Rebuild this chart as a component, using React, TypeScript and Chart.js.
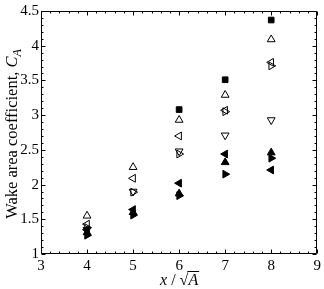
import React, { useEffect, useRef } from "react";
import { Chart, registerables } from "chart.js";

Chart.register(...registerables);

const xPositions = [4, 5, 6, 7, 8];
const filledSquare = [null, null, 3.08, 3.51, 4.37];
const openUp = [1.55, 2.25, 2.93, 3.29, 4.09];
const openLeft = [1.43, 2.09, 2.7, 3.07, 3.76];
const openRight = [1.38, 1.89, 2.44, 3.05, 3.71];
const openDown = [1.35, 1.9, 2.48, 2.71, 2.93];
const filledUp = [1.31, 1.6, 1.87, 2.32, 2.46];
const filledLeft = [1.35, 1.64, 2.02, 2.44, 2.21];
const filledRight = [1.27, 1.56, 1.84, 2.15, 2.38];

const xTicks = [3, 4, 5, 6, 7, 8, 9];
const yTicks = [1, 1.5, 2, 2.5, 3, 3.5, 4, 4.5];

const FONT = "'Liberation Serif', 'Times New Roman', serif";

type Series = { values: (number | null)[]; style: string; rotation: number; filled: boolean };

const seriesList: Series[] = [
  { values: filledSquare, style: "rect", rotation: 0, filled: true },
  { values: openUp, style: "triangle", rotation: 0, filled: false },
  { values: openLeft, style: "triangle", rotation: -90, filled: false },
  { values: openRight, style: "triangle", rotation: 90, filled: false },
  { values: openDown, style: "triangle", rotation: 180, filled: false },
  { values: filledUp, style: "triangle", rotation: 0, filled: true },
  { values: filledLeft, style: "triangle", rotation: -90, filled: true },
  { values: filledRight, style: "triangle", rotation: 90, filled: true },
];

const framePlugin = {
  id: "frame",
  afterDraw(chart: any) {
    const { ctx, chartArea } = chart;
    const { left, right, top, bottom } = chartArea;
    const xs = chart.scales.x;
    const ys = chart.scales.y;
    ctx.save();
    ctx.strokeStyle = "#000";
    ctx.lineWidth = 1;
    const L = Math.round(left) + 0.5;
    const R = Math.round(right) - 0.5;
    const T = Math.round(top) + 0.5;
    const B = Math.round(bottom) - 0.5;
    ctx.beginPath();
    ctx.rect(L, T, R - L, B - T);
    ctx.stroke();
    const line = (x1: number, y1: number, x2: number, y2: number) => {
      ctx.beginPath();
      ctx.moveTo(x1, y1);
      ctx.lineTo(x2, y2);
      ctx.stroke();
    };
    for (let i = 0; i <= 30; i++) {
      const v = 3 + i * 0.2;
      const px = Math.round(xs.getPixelForValue(v)) + 0.5;
      const len = i % 5 === 0 ? 4 : 2;
      line(px, B, px, B - len);
      line(px, T, px, T + len);
    }
    for (let i = 0; i <= 35; i++) {
      const v = 1 + i * 0.1;
      const py = Math.round(ys.getPixelForValue(v)) + 0.5;
      const len = i % 5 === 0 ? 4 : 2;
      line(L, py, L + len, py);
      line(R, py, R - len, py);
    }
    // x title
    ctx.fillStyle = "#000";
    ctx.textBaseline = "alphabetic";
    const cx = (left + right) / 2;
    const ty = 285;
    const fs = 16;
    ctx.font = `italic ${fs}px ${FONT}`;
    const wx = ctx.measureText("x").width;
    ctx.font = `${fs}px ${FONT}`;
    const wSlash = ctx.measureText(" / ").width;
    const wRoot = ctx.measureText("√").width;
    ctx.font = `italic ${fs}px ${FONT}`;
    const wA = ctx.measureText("A").width;
    const total = wx + wSlash + wRoot + wA;
    let px = cx - total / 2;
    ctx.textAlign = "left";
    ctx.font = `italic ${fs}px ${FONT}`;
    ctx.fillText("x", px, ty);
    px += wx;
    ctx.font = `${fs}px ${FONT}`;
    ctx.fillText(" / ", px, ty);
    px += wSlash;
    ctx.fillText("√", px, ty);
    px += wRoot;
    ctx.font = `italic ${fs}px ${FONT}`;
    ctx.fillText("A", px, ty);
    line(px - 1, ty - 13.5, px + wA + 1, ty - 13.5);
    // y title
    ctx.save();
    ctx.translate(17, 134);
    ctx.rotate(-Math.PI / 2);
    const main = "Wake area coefficient, ";
    const ys2 = 16.5;
    ctx.font = `${ys2}px ${FONT}`;
    const wm = ctx.measureText(main).width;
    ctx.font = `italic ${ys2}px ${FONT}`;
    const wc = ctx.measureText("C").width;
    ctx.font = `italic 12px ${FONT}`;
    const wsub = ctx.measureText("A").width;
    const tot = wm + wc + wsub;
    let p = -tot / 2;
    ctx.font = `${ys2}px ${FONT}`;
    ctx.fillText(main, p, 0);
    p += wm;
    ctx.font = `italic ${ys2}px ${FONT}`;
    ctx.fillText("C", p, 0);
    p += wc;
    ctx.font = `italic 12px ${FONT}`;
    ctx.fillText("A", p, 4);
    ctx.restore();
    ctx.restore();
  },
};

export default function App() {
  const ref = useRef<HTMLCanvasElement>(null);
  useEffect(() => {
    if (!ref.current) return;
    const datasets = seriesList.map((s) => ({
      data: xPositions
        .map((x, i) => ({ x, y: s.values[i] }))
        .filter((p) => p.y !== null),
      pointStyle: s.style,
      rotation: s.rotation,
      pointRadius: s.style === "rect" ? 4 : 4.5,
      pointHoverRadius: 4,
      backgroundColor: s.filled ? "#000" : "rgba(0,0,0,0)",
      borderColor: "#000",
      borderWidth: 1,
      showLine: false,
    }));
    const chart = new Chart(ref.current, {
      type: "scatter",
      data: { datasets: datasets as any },
      options: {
        responsive: false,
        animation: false,
        layout: { padding: { left: 0, top: 8, right: 5, bottom: 0 } },
        plugins: { legend: { display: false }, tooltip: { enabled: false } },
        scales: {
          x: {
            type: "linear",
            min: 3,
            max: 9,
            afterFit: (s: any) => {
              s.height = 35;
            },
            afterBuildTicks: (s: any) => {
              s.ticks = xTicks.map((v) => ({ value: v }));
            },
            grid: { display: false, drawTicks: false },
            border: { display: false },
            ticks: {
              color: "#000",
              padding: 3,
              font: { family: FONT, size: 15 },
              callback: (v: any) => String(v),
            },
          },
          y: {
            type: "linear",
            min: 1,
            max: 4.5,
            afterFit: (s: any) => {
              s.width = 41;
            },
            afterBuildTicks: (s: any) => {
              s.ticks = yTicks.map((v) => ({ value: v }));
            },
            grid: { display: false, drawTicks: false },
            border: { display: false },
            ticks: {
              color: "#000",
              padding: 2,
              font: { family: FONT, size: 15 },
              callback: (v: any) => String(v),
            },
          },
        },
      },
      plugins: [framePlugin],
    });
    return () => chart.destroy();
  }, []);
  return (
    <div style={{ position: "fixed", left: 0, top: 0, width: 324, height: 289, background: "#fff" }}>
      <canvas ref={ref} width={324} height={289} style={{ display: "block" }} />
    </div>
  );
}
